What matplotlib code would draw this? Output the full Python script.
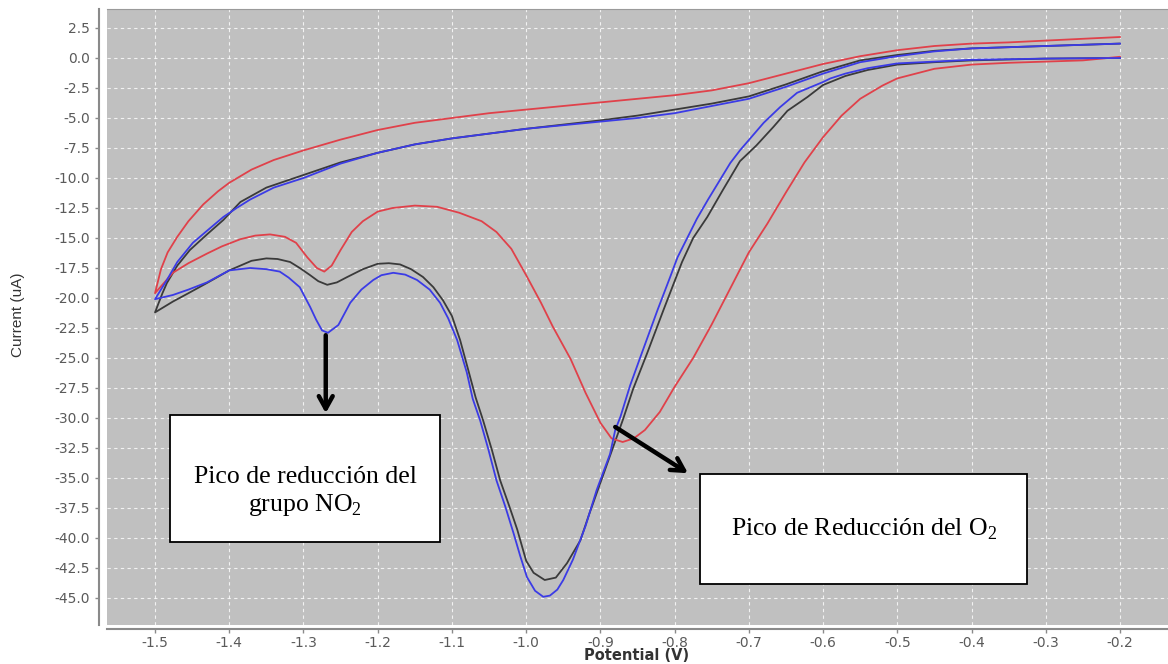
import matplotlib
matplotlib.use("Agg")
import matplotlib.pyplot as plt
from matplotlib.patches import Rectangle
import numpy as np

plt.rcParams["axes.unicode_minus"] = False
plt.rcParams["mathtext.fontset"] = "custom"
plt.rcParams["mathtext.rm"] = "Liberation Serif"

# ---- voltammogram data: potential (V) and current (uA) ----
# red trace: cathodic sweep (-0.2 -> -1.5) and return sweep (-1.5 -> -0.2)
red_fwd_E = [-0.200, -0.250, -0.300, -0.350, -0.400, -0.450, -0.500, -0.520, -0.550, -0.575,
             -0.600, -0.625, -0.650, -0.675, -0.700, -0.725, -0.750, -0.775, -0.800, -0.820,
             -0.840, -0.855, -0.870, -0.885, -0.900, -0.920, -0.940, -0.964, -0.980, -1.000,
             -1.020, -1.040, -1.060, -1.090, -1.120, -1.150, -1.180, -1.200, -1.220, -1.235,
             -1.250, -1.262, -1.272, -1.282, -1.295, -1.310, -1.325, -1.345, -1.365, -1.385,
             -1.410, -1.430, -1.455, -1.476, -1.500]
red_fwd_I = [0.1, -0.2, -0.3, -0.4, -0.55, -0.9, -1.7, -2.3, -3.4, -4.8,
             -6.6, -8.7, -11.2, -13.8, -16.2, -19.2, -22.2, -25.0, -27.4, -29.5,
             -31.0, -31.7, -32.0, -31.7, -30.4, -27.9, -25.1, -22.4, -20.4, -18.1,
             -15.9, -14.5, -13.6, -12.9, -12.4, -12.3, -12.5, -12.8, -13.6, -14.5,
             -16.0, -17.3, -17.8, -17.5, -16.6, -15.4, -14.9, -14.7, -14.8, -15.1,
             -15.7, -16.3, -17.1, -17.9, -19.6]
red_rev_E = [-1.500, -1.492, -1.483, -1.470, -1.455, -1.435, -1.415, -1.400, -1.370, -1.340,
             -1.300, -1.250, -1.200, -1.150, -1.100, -1.050, -1.000, -0.950, -0.900, -0.850,
             -0.800, -0.750, -0.700, -0.650, -0.600, -0.550, -0.500, -0.450, -0.400, -0.350,
             -0.300, -0.250, -0.200]
red_rev_I = [-19.6, -17.6, -16.2, -14.9, -13.6, -12.2, -11.1, -10.4, -9.3, -8.5,
             -7.7, -6.8, -6.0, -5.4, -5.0, -4.6, -4.3, -4.0, -3.7, -3.4,
             -3.1, -2.7, -2.1, -1.3, -0.5, 0.15, 0.65, 1.0, 1.2, 1.3,
             1.45, 1.6, 1.75]

# black trace
black_fwd_E = [-0.200, -0.300, -0.400, -0.450, -0.500, -0.540, -0.570, -0.600, -0.621, -0.648,
               -0.667, -0.690, -0.712, -0.735, -0.756, -0.775, -0.790, -0.815, -0.837, -0.856,
               -0.870, -0.885, -0.900, -0.915, -0.927, -0.945, -0.960, -0.975, -0.990, -1.000,
               -1.012, -1.023, -1.035, -1.046, -1.058, -1.068, -1.078, -1.089, -1.100, -1.112,
               -1.125, -1.139, -1.155, -1.170, -1.185, -1.200, -1.220, -1.241, -1.255, -1.268,
               -1.280, -1.291, -1.305, -1.318, -1.335, -1.350, -1.370, -1.400, -1.430, -1.455,
               -1.476, -1.500]
black_fwd_I = [0.0, -0.05, -0.2, -0.35, -0.55, -1.0, -1.5, -2.25, -3.25, -4.4,
               -5.75, -7.3, -8.6, -11.0, -13.25, -15.0, -17.0, -21.0, -24.6, -27.6,
               -30.2, -32.8, -35.4, -38.0, -40.2, -42.1, -43.3, -43.5, -42.9, -41.9,
               -39.3, -37.3, -35.2, -32.7, -30.2, -28.3, -26.0, -23.5, -21.5, -20.2,
               -19.1, -18.25, -17.6, -17.2, -17.1, -17.15, -17.6, -18.25, -18.7, -18.9,
               -18.6, -18.1, -17.5, -17.0, -16.75, -16.7, -16.9, -17.7, -18.75, -19.6,
               -20.3, -21.2]
black_rev_E = [-1.500, -1.490, -1.484, -1.470, -1.453, -1.430, -1.408, -1.385, -1.350, -1.300,
               -1.250, -1.200, -1.150, -1.100, -1.050, -1.000, -0.950, -0.900, -0.850, -0.800,
               -0.750, -0.700, -0.650, -0.600, -0.550, -0.500, -0.450, -0.400, -0.350, -0.300,
               -0.250, -0.200]
black_rev_I = [-21.2, -19.6, -18.75, -17.3, -16.0, -14.7, -13.5, -12.0, -10.8, -9.75,
               -8.7, -7.9, -7.2, -6.7, -6.3, -5.9, -5.55, -5.2, -4.8, -4.3,
               -3.8, -3.2, -2.2, -1.1, -0.2, 0.25, 0.6, 0.8, 0.9, 1.0,
               1.1, 1.2]

# blue trace
blue_fwd_E = [-0.200, -0.300, -0.400, -0.450, -0.500, -0.540, -0.570, -0.590, -0.600, -0.635,
              -0.658, -0.680, -0.712, -0.725, -0.755, -0.770, -0.796, -0.806, -0.823, -0.846,
              -0.860, -0.873, -0.880, -0.887, -0.905, -0.920, -0.937, -0.950, -0.958, -0.968,
              -0.977, -0.988, -0.999, -1.008, -1.017, -1.028, -1.040, -1.051, -1.062, -1.072,
              -1.080, -1.093, -1.105, -1.116, -1.130, -1.147, -1.163, -1.179, -1.195, -1.206,
              -1.222, -1.237, -1.253, -1.267, -1.275, -1.283, -1.291, -1.305, -1.320, -1.332,
              -1.350, -1.372, -1.400, -1.430, -1.455, -1.476, -1.500]
blue_fwd_I = [0.0, -0.05, -0.15, -0.3, -0.45, -0.85, -1.3, -1.7, -2.0, -2.9,
              -4.1, -5.4, -7.7, -8.75, -11.8, -13.4, -16.6, -18.25, -21.0, -24.9,
              -27.3, -29.9, -31.0, -33.0, -36.0, -39.0, -41.8, -43.5, -44.3, -44.8,
              -44.9, -44.4, -43.25, -41.5, -39.6, -37.4, -35.2, -32.6, -30.2, -28.4,
              -26.2, -23.5, -21.7, -20.4, -19.3, -18.5, -18.05, -17.9, -18.1, -18.5,
              -19.3, -20.4, -22.25, -22.9, -22.7, -21.8, -20.75, -19.1, -18.3, -17.8,
              -17.6, -17.5, -17.7, -18.7, -19.3, -19.75, -20.1]
blue_rev_E = [-1.500, -1.492, -1.484, -1.470, -1.449, -1.430, -1.408, -1.390, -1.372, -1.340,
              -1.300, -1.250, -1.200, -1.150, -1.100, -1.050, -1.000, -0.950, -0.900, -0.850,
              -0.800, -0.750, -0.700, -0.650, -0.600, -0.550, -0.500, -0.450, -0.400, -0.350,
              -0.300, -0.250, -0.200]
blue_rev_I = [-20.1, -19.3, -18.5, -17.0, -15.4, -14.4, -13.25, -12.5, -11.8, -10.8,
              -10.0, -8.8, -7.9, -7.2, -6.7, -6.3, -5.9, -5.6, -5.3, -5.0,
              -4.6, -4.0, -3.4, -2.4, -1.3, -0.35, 0.15, 0.55, 0.8, 0.9,
              1.0, 1.1, 1.2]

x_ticks = [-1.5, -1.4, -1.3, -1.2, -1.1, -1.0, -0.9, -0.8, -0.7, -0.6, -0.5, -0.4, -0.3, -0.2]
y_ticks = [2.5, 0.0, -2.5, -5.0, -7.5, -10.0, -12.5, -15.0, -17.5, -20.0, -22.5, -25.0,
           -27.5, -30.0, -32.5, -35.0, -37.5, -40.0, -42.5, -45.0]

W, H = 1168, 664
fig = plt.figure(figsize=(W / 100, H / 100), dpi=100)
fig.patch.set_facecolor("white")
ax = fig.add_axes([107 / W, 1 - 625 / H, (W - 107) / W, (625 - 9) / H])
ax.set_facecolor("#c0c0c0")

traces = [
    (black_fwd_E, black_fwd_I, black_rev_E, black_rev_I, "#3a3a3a"),
    (red_fwd_E, red_fwd_I, red_rev_E, red_rev_I, "#e0414a"),
    (blue_fwd_E, blue_fwd_I, blue_rev_E, blue_rev_I, "#3b3be6"),
]
for fE, fI, rE, rI, col in traces:
    E = np.concatenate([fE, rE])
    I = np.concatenate([fI, rI])
    ax.plot(E, I, color=col, lw=1.3, solid_joinstyle="round")

ax.set_xlim(-1.5647, -0.1353)
ax.set_ylim(-47.25, 4.083)
ax.set_xticks(x_ticks)
ax.set_xticklabels([f"{v:.1f}" for v in x_ticks])
ax.set_yticks(y_ticks)
ax.set_yticklabels([f"{v:.1f}" for v in y_ticks])
ax.grid(True, color="white", lw=0.8, ls=(0, (3, 3)), alpha=0.8)
ax.set_axisbelow(True)

ax.spines["right"].set_visible(False)
ax.spines["top"].set_color("#9a9a9a")
ax.spines["top"].set_linewidth(0.8)
ax.spines["left"].set_position(("outward", 6))
ax.spines["bottom"].set_position(("outward", 3))
for side in ["left", "bottom"]:
    ax.spines[side].set_color("#8a8a8a")
    ax.spines[side].set_linewidth(1.5)
ax.tick_params(axis="both", colors="#8a8a8a", labelcolor="#5a5a5a", labelsize=10,
               length=3, width=1)
ax.tick_params(axis="x", pad=2)
ax.tick_params(axis="y", pad=3)
for lab in ax.get_xticklabels() + ax.get_yticklabels():
    lab.set_family("DejaVu Sans")

fig.text(18 / W, 1 - 315 / H, "Current (uA)", rotation=90, ha="center", va="center",
         fontsize=11, family="Liberation Sans", color="#333333")
fig.text(637 / W, 1 - 656 / H, "Potential (V)", ha="center", va="center",
         fontsize=10.5, family="DejaVu Sans", weight="bold", color="#333333")

# annotation boxes
serif = "Liberation Serif"
box1 = Rectangle((-1.480, -40.33), 0.364, 10.58, facecolor="white", edgecolor="black",
                 lw=1.3, zorder=5)
ax.add_patch(box1)
ax.text(-1.298, -36.2, "Pico de reducción del\ngrupo NO$_\\mathrm{2}$", ha="center",
        va="center", fontsize=18.5, family=serif, linespacing=1.2, zorder=6)

box2 = Rectangle((-0.7655, -43.83), 0.4407, 9.16, facecolor="white", edgecolor="black",
                 lw=1.3, zorder=5)
ax.add_patch(box2)
ax.text(-0.5451, -39.3, "Pico de Reducción del O$_\\mathrm{2}$", ha="center", va="center",
        fontsize=18.5, family=serif, zorder=6)

arrow_kw = dict(arrowstyle="->,head_length=0.9,head_width=0.5", color="black", lw=3.2,
                shrinkA=0, shrinkB=0)
ax.annotate("", xy=(-1.270, -29.6), xytext=(-1.270, -23.1), arrowprops=arrow_kw, zorder=7)
ax.annotate("", xy=(-0.782, -34.6), xytext=(-0.880, -30.75), arrowprops=arrow_kw, zorder=7)

fig.savefig("out.png", dpi=100)
